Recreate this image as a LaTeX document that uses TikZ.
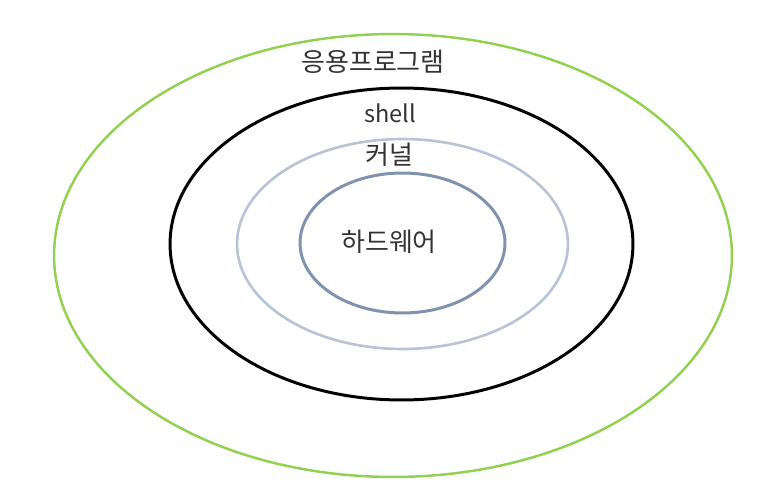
\documentclass[tikz,border=0pt]{standalone}
\usepackage{fontspec}
\newfontfamily\kofont{Noto Sans CJK KR}
\usetikzlibrary{shapes.geometric}
\definecolor{appgreen}{HTML}{92D050}
\definecolor{kernblue}{HTML}{B8C4D6}
\definecolor{hwblue}{HTML}{8093AE}
\definecolor{txtgray}{HTML}{333333}
\begin{document}
\begin{tikzpicture}[x=0.02cm, y=-0.02cm, ring/.style={ellipse,draw,inner sep=0pt}, lbl/.style={font=\kofont\fontsize{14.8}{17}\selectfont, text=txtgray, inner sep=0pt}]
\useasboundingbox (0,0) rectangle (770,493);
\begin{scope}[every node/.style={ring}]
\node [draw=appgreen, line width=1.4pt, minimum width=13.56cm, minimum height=8.86cm](app) at (393,255.5) {};
\node [draw=black, line width=1.7pt, minimum width=9.26cm, minimum height=6.24cm](shl) at (401.5,244) {};
\node [draw=kernblue, line width=1.5pt, minimum width=6.62cm, minimum height=4.2cm](kern) at (402.5,244) {};
\node [draw=hwblue, line width=1.7pt, minimum width=4.1cm, minimum height=2.8cm](hw) at (402.5,243) {};
\end{scope}
\node [lbl](tapp) at (373,62) {응용프로그램};
\node [lbl, font=\kofont\fontsize{13.4}{16}\selectfont](tshl) at (390,113) {shell};
\node [lbl](tkern) at (389,155) {커널};
\node [lbl](thw) at (389,242) {하드웨어};
\end{tikzpicture}
\end{document}
